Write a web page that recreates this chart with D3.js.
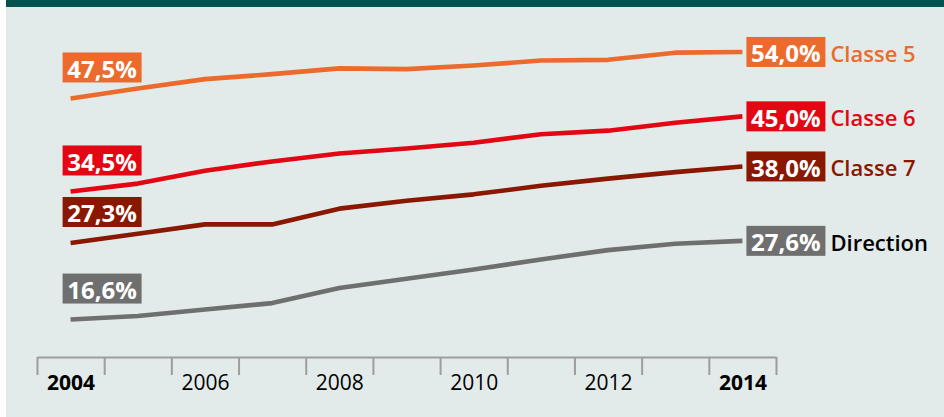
<!DOCTYPE html>
<html>
<head>
<meta charset="utf-8">
<script src="https://cdn.jsdelivr.net/npm/d3@7"></script>
<style>
  html, body { margin: 0; padding: 0; background: #ffffff; }
  svg { display: block; }
</style>
</head>
<body>
<svg id="chart" width="944" height="417"></svg>
<script>
// ---- data ----
const years = [2004, 2005, 2006, 2007, 2008, 2009, 2010, 2011, 2012, 2013, 2014];
const seriesNames = ["Classe 5", "Classe 6", "Classe 7", "Direction"];
const classe5   = [47.5, 48.9, 50.2, 50.9, 51.7, 51.6, 52.1, 52.8, 52.9, 53.9, 54.0];
const classe6   = [34.5, 35.6, 37.4, 38.7, 39.8, 40.5, 41.3, 42.5, 43.0, 44.1, 45.0];
const classe7   = [27.3, 28.6, 29.9, 29.9, 32.1, 33.2, 34.1, 35.3, 36.3, 37.2, 38.0];
const direction = [16.6, 17.1, 18.0, 18.9, 21.0, 22.3, 23.6, 25.0, 26.3, 27.2, 27.6];
const startLabels = ["47,5%", "34,5%", "27,3%", "16,6%"];
const endLabels   = ["54,0%", "45,0%", "38,0%", "27,6%"];
const tickLabels  = ["2004", "", "2006", "", "2008", "", "2010", "", "2012", "", "2014"];
const boldTicks   = ["2004", "2014"];

// ---- styles ----
const seriesColors = ["#ec6a2c", "#e30613", "#8a1700", "#6f6f6f"];
const nameColors   = ["#ec6a2c", "#e30613", "#8a1700", "#000000"];

const allSeries = [classe5, classe6, classe7, direction];

const svg = d3.select("#chart");
const W = 944, H = 417;

// background
svg.append("rect").attr("x", 6).attr("y", 0).attr("width", W - 6).attr("height", H).attr("fill", "#e2ebe9");
svg.append("rect").attr("x", 6).attr("y", 0).attr("width", W - 6).attr("height", 7).attr("fill", "#00514f");

// scales
const x = d3.scaleLinear().domain([2003.5, 2014.5]).range([37, 776]);
const y = d3.scaleLinear().domain([15, 55]).range([331.0, 44.8]);

// axis: boundary ticks
const axisY = 357;
const boundaries = d3.range(2003.5, 2015, 1);
const gTicks = svg.append("g").attr("transform", `translate(0,${axisY})`)
  .call(d3.axisBottom(x).tickValues(boundaries).tickSize(18).tickSizeOuter(0).tickFormat(""));
gTicks.select(".domain").attr("stroke", "#9d9d9d").attr("stroke-width", 2.2);
gTicks.selectAll(".tick line").attr("stroke", "#9d9d9d").attr("stroke-width", 2);

// axis: labels at year centers
const gLabels = svg.append("g").attr("transform", `translate(0,${axisY})`)
  .call(d3.axisBottom(x).tickValues(years).tickSize(0).tickFormat((d, i) => tickLabels[i]));
gLabels.select(".domain").remove();
gLabels.selectAll(".tick text")
  .attr("y", 25).attr("dy", "0")
  .attr("dominant-baseline", "central")
  .attr("fill", "#000")
  .style("font-family", "'Liberation Sans Narrow', 'Open Sans', sans-serif")
  .style("font-size", "21px")
  .style("font-weight", d => boldTicks.includes(String(d)) ? "700" : "400");

// lines
const line = d3.line().x((d, i) => x(years[i])).y(d => y(d));
svg.append("g").selectAll("path").data(allSeries).join("path")
  .attr("d", line)
  .attr("fill", "none")
  .attr("stroke", (d, i) => seriesColors[i])
  .attr("stroke-width", 4.6)
  .attr("stroke-linejoin", "round");

// start labels (above line start)
const boxW = 79, boxH = 30;
const startG = svg.append("g").selectAll("g").data(allSeries).join("g")
  .attr("transform", d => `translate(${x(years[0]) - 8},${y(d[0]) - 31 - boxH / 2})`);
startG.append("rect").attr("width", boxW).attr("height", boxH).attr("fill", (d, i) => seriesColors[i]);
startG.append("text").attr("x", boxW / 2).attr("y", boxH / 2 + 1)
  .attr("text-anchor", "middle").attr("dominant-baseline", "central")
  .attr("fill", "#fff")
  .style("font-family", "'Open Sans', sans-serif").style("font-size", "24px").style("font-weight", "700")
  .text((d, i) => startLabels[i]);

// end labels
const endG = svg.append("g").selectAll("g").data(allSeries).join("g")
  .attr("transform", d => `translate(${x(years[years.length - 1]) + 4},${y(d[d.length - 1]) - boxH / 2})`);
endG.append("rect").attr("width", boxW).attr("height", boxH).attr("fill", (d, i) => seriesColors[i]);
endG.append("text").attr("x", boxW / 2).attr("y", boxH / 2 + 1)
  .attr("text-anchor", "middle").attr("dominant-baseline", "central")
  .attr("fill", "#fff")
  .style("font-family", "'Open Sans', sans-serif").style("font-size", "24px").style("font-weight", "700")
  .text((d, i) => endLabels[i]);
endG.append("text").attr("x", boxW + 5).attr("y", boxH / 2 + 1)
  .attr("dominant-baseline", "central")
  .attr("fill", (d, i) => nameColors[i])
  .style("font-family", "'Open Sans', sans-serif").style("font-size", "22px").style("font-weight", "600")
  .text((d, i) => seriesNames[i]);
</script>
</body>
</html>
